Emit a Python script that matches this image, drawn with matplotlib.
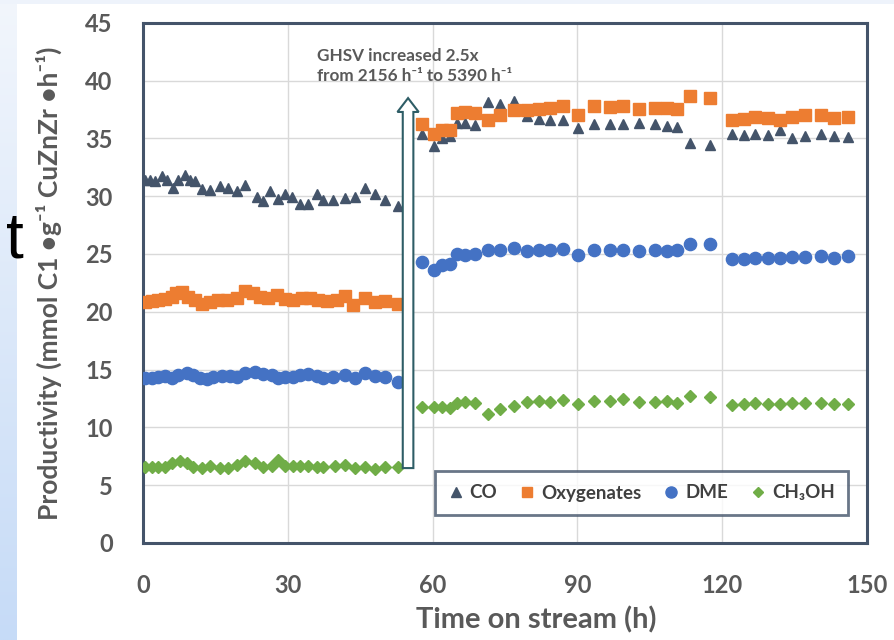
import numpy as np
import matplotlib
matplotlib.use("Agg")
import matplotlib.pyplot as plt
from matplotlib.patches import FancyArrow
from matplotlib.lines import Line2D
from matplotlib.colors import LinearSegmentedColormap

plt.rcParams['font.family'] = ['Lato', 'DejaVu Sans']

# ---------------- data ----------------
# segment 1 (GHSV 2156 h-1)
t_co_1 = [0.35, 1.39, 2.43, 3.81, 4.85, 6.09, 7.27, 8.65, 9.69, 10.73, 12.11, 13.84, 15.91,
          17.64, 19.37, 21.1, 23.5, 24.9, 26.29, 28.0, 29.4, 30.78, 32.51, 34.24, 35.97, 37.21,
          39.43, 41.85, 43.92, 46.0, 48.07, 50.15, 52.91]
co_1 = [31.43, 31.37, 31.29, 31.72, 31.43, 30.74, 31.37, 31.81, 31.37, 31.3, 30.65, 30.57, 30.86,
        30.74, 30.45, 30.94, 29.93, 29.59, 30.45, 29.79, 30.22, 29.93, 29.30, 29.36, 30.16, 29.65,
        29.65, 29.88, 29.93, 30.74, 30.16, 29.7, 29.13]

t_oxy_1 = [0.35, 1.74, 3.12, 4.5, 5.89, 6.78, 7.96, 9.34, 10.73, 12.11, 13.84, 15.57, 17.3, 19.37,
           21.1, 22.83, 24.21, 25.94, 27.67, 29.4, 31.13, 32.86, 34.59, 36.31, 38.04, 40.12, 41.85,
           43.57, 46.0, 48.07, 50.15, 52.91]
oxy_1 = [20.86, 20.92, 21.0, 21.06, 21.29, 21.64, 21.72, 21.29, 21.0, 20.71, 20.86, 21.0, 21.0, 21.15,
         21.81, 21.64, 21.29, 21.23, 21.44, 21.06, 21.0, 21.15, 21.23, 21.0, 20.95, 21.0, 21.35,
         20.57, 21.15, 20.86, 20.95, 20.66]

t_dme_1 = [0.35, 1.74, 3.12, 4.5, 5.89, 7.27, 9.0, 10.38, 11.76, 13.15, 14.53, 16.26, 17.99, 19.37,
           21.1, 23.17, 24.9, 26.63, 28.01, 29.4, 31.13, 32.51, 34.24, 35.97, 37.35, 39.43, 41.85,
           43.92, 46.0, 48.07, 50.15, 52.91]
dme_1 = [14.23, 14.23, 14.32, 14.43, 14.23, 14.52, 14.72, 14.52, 14.23, 14.15, 14.32, 14.43, 14.43,
         14.32, 14.72, 14.81, 14.61, 14.52, 14.23, 14.32, 14.32, 14.52, 14.61, 14.43, 14.23, 14.32,
         14.52, 14.23, 14.66, 14.43, 14.32, 13.94]

t_meoh_1 = [0.35, 1.74, 3.12, 4.5, 5.89, 7.61, 9.0, 10.38, 12.11, 13.84, 15.91, 17.64, 19.37, 21.1,
            23.17, 24.9, 26.63, 28.01, 29.4, 31.13, 32.51, 34.24, 35.97, 37.35, 39.77, 41.85, 43.92,
            46.0, 48.07, 50.15, 52.91]
meoh_1 = [6.6, 6.6, 6.6, 6.6, 6.94, 7.12, 6.89, 6.6, 6.45, 6.66, 6.45, 6.51, 6.74, 7.12, 6.89, 6.54,
          6.66, 7.17, 6.66, 6.66, 6.66, 6.66, 6.6, 6.6, 6.66, 6.74, 6.45, 6.6, 6.37, 6.54, 6.54]

# segments 2 and 3 (GHSV 5390 h-1)
t_2 = [57.8, 60.2, 61.9, 63.5, 65.0, 66.7, 68.8, 71.4, 73.9, 76.8, 79.5, 82.0, 84.4, 87.0, 90.2,
       93.5, 96.7, 99.5, 102.7, 106.2, 108.6, 110.7, 113.4, 117.6]
co_2 = [35.35, 34.31, 35.06, 35.18, 36.33, 36.33, 36.13, 38.14, 37.94, 38.23, 36.9, 36.71, 36.62,
        36.62, 35.93, 36.27, 36.27, 36.27, 36.33, 36.21, 36.04, 35.98, 34.6, 34.4]
oxy_2 = [36.27, 35.41, 35.75, 35.75, 37.19, 37.28, 37.19, 36.56, 36.99, 37.42, 37.48, 37.51, 37.63,
         37.77, 36.99, 37.77, 37.71, 37.77, 37.57, 37.63, 37.66, 37.51, 38.63, 38.52]
dme_2 = [24.32, 23.6, 24.03, 24.11, 24.98, 24.89, 24.98, 25.38, 25.32, 25.53, 25.27, 25.32, 25.38,
         25.41, 24.89, 25.38, 25.38, 25.32, 25.27, 25.38, 25.27, 25.38, 25.84, 25.84]
meoh_2 = [11.78, 11.73, 11.73, 11.64, 12.13, 12.21, 12.13, 11.15, 11.55, 11.84, 12.21, 12.3, 12.21,
          12.36, 12.01, 12.3, 12.3, 12.42, 12.21, 12.21, 12.3, 12.13, 12.71, 12.65]

t_3 = [122.1, 124.5, 126.9, 129.5, 132.0, 134.5, 137.3, 140.6, 143.3, 146.1]
co_3 = [35.35, 35.26, 35.35, 35.26, 35.75, 35.06, 35.18, 35.35, 35.18, 35.12]
oxy_3 = [36.62, 36.7, 36.85, 36.79, 36.62, 36.85, 36.99, 36.99, 36.79, 36.85]
dme_3 = [24.6, 24.6, 24.69, 24.69, 24.69, 24.75, 24.75, 24.8, 24.69, 24.8]
meoh_3 = [11.93, 12.01, 12.13, 12.01, 12.01, 12.07, 12.13, 12.13, 12.01, 12.01]

series_names = ["CO", "Oxygenates", "DME", "CH\u2083OH"]
x_ticks = [0, 30, 60, 90, 120, 150]
y_ticks = [0, 5, 10, 15, 20, 25, 30, 35, 40, 45]
annot_text = "GHSV increased 2.5x\nfrom 2156 h\u207b\u00b9 to 5390 h\u207b\u00b9"

# ---------------- styling ----------------
C_CO = '#44546A'
C_OXY = '#ED7D31'
C_DME = '#4472C4'
C_MEOH = '#70AD47'
TXT = '#595959'
FRAME = '#44546A'

W, H = 895, 640
fig = plt.figure(figsize=(W / 100, H / 100), dpi=100)
fig.patch.set_facecolor('white')

# slide background strips (left gradient + top band)
bg = fig.add_axes([0, 0, 17 / W, 1])
grad = np.linspace(0, 1, 256).reshape(-1, 1)
cm = LinearSegmentedColormap.from_list('bg', ['#c6dbf7', '#f2f6fc'])
bg.imshow(grad, aspect='auto', cmap=cm, origin='lower', extent=[0, 1, 0, 1])
bg.axis('off')
top = fig.add_axes([0, 1 - 4 / H, 1, 4 / H])
top.set_facecolor('#eef3fb')
top.set_xticks([]); top.set_yticks([])
for s in top.spines.values():
    s.set_visible(False)

fig.text(24 / W, 1 - 258 / H, 't', fontsize=46, color='black', ha='right', va='baseline',
         family=['Liberation Sans', 'DejaVu Sans'])

ax = fig.add_axes([143.3 / W, 1 - 543 / H, (866.7 - 143.3) / W, (543 - 22.7) / H])
ax.set_xlim(0, 150)
ax.set_ylim(0, 45)
ax.set_xticks(x_ticks)
ax.set_yticks(y_ticks)
ax.grid(True, color='#d9d9d9', lw=1.0)
ax.set_axisbelow(True)
for s in ax.spines.values():
    s.set_color(FRAME)
    s.set_linewidth(2.2)
ax.tick_params(length=0, labelsize=17, labelcolor=TXT, pad=22)
for lab in ax.get_xticklabels() + ax.get_yticklabels():
    lab.set_fontweight('bold')

segs = [(t_co_1, co_1, t_oxy_1, oxy_1, t_dme_1, dme_1, t_meoh_1, meoh_1),
        (t_2, co_2, t_2, oxy_2, t_2, dme_2, t_2, meoh_2),
        (t_3, co_3, t_3, oxy_3, t_3, dme_3, t_3, meoh_3)]
for (tc, c, to, o, td, d, tm, m) in segs:
    ax.plot(tm, m, ls='none', marker='D', ms=5.8, color=C_MEOH, mec=C_MEOH, zorder=3)
    ax.plot(td, d, ls='none', marker='o', ms=8.8, color=C_DME, mec=C_DME, zorder=3)
    ax.plot(tc, c, ls='none', marker='^', ms=7.8, color=C_CO, mec=C_CO, zorder=3)
    ax.plot(to, o, ls='none', marker='s', ms=8.4, color=C_OXY, mec=C_OXY, zorder=3)

# arrow marking the GHSV change
arrow = FancyArrow(54.9, 6.48, 0, 32.0, width=2.2, head_width=4.4, head_length=1.2,
                   length_includes_head=True, fc='white', ec='#2e5d66', lw=1.5, zorder=4)
ax.add_patch(arrow)
ax.text(36.0, 41.25, annot_text, ha='left', va='center', fontsize=12.3, color=TXT,
        fontweight='bold', linespacing=1.3, zorder=5)

ax.set_xlabel("Time on stream (h)", fontsize=21, color=TXT, fontweight='bold')
ax.xaxis.set_label_coords((536 - 143.3) / 723.4, (543 - 606) / 520.3)
ax.set_ylabel("Productivity (mmol C1 \u2022g\u207b\u00b9 CuZnZr \u2022h\u207b\u00b9)", fontsize=19,
              color=TXT, fontweight='bold')
ax.yaxis.set_label_coords((62 - 143.3) / 723.4, (543 - 283) / 520.3)

handles = [Line2D([], [], ls='none', marker='^', ms=7, color=C_CO),
           Line2D([], [], ls='none', marker='s', ms=7.5, color=C_OXY),
           Line2D([], [], ls='none', marker='o', ms=8, color=C_DME),
           Line2D([], [], ls='none', marker='D', ms=5.2, color=C_MEOH)]
leg = ax.legend(handles, series_names, ncol=4, loc='center',
                bbox_to_anchor=((435 - 143.3) / 723.4, (543 - 519) / 520.3,
                                (848 - 435) / 723.4, (519 - 467) / 520.3),
                mode='expand', frameon=True, fancybox=False, handlelength=0.8,
                handletextpad=0.35, columnspacing=1.0, borderaxespad=0, borderpad=0.7,
                prop={'size': 13.5, 'weight': 'bold'})
leg.get_frame().set_edgecolor(FRAME)
leg.get_frame().set_linewidth(2.0)
for t in leg.get_texts():
    t.set_color('#404040')

fig.savefig('out.png', dpi=100, facecolor=fig.get_facecolor())
